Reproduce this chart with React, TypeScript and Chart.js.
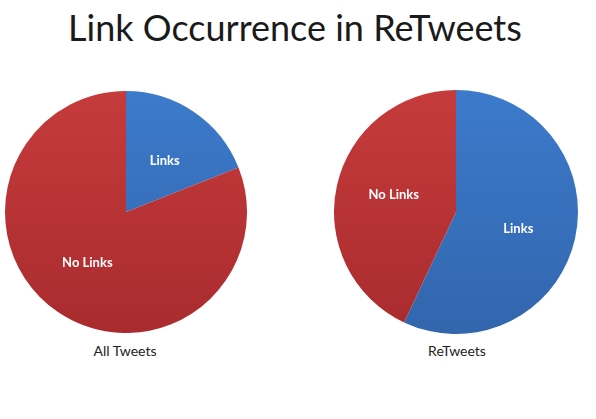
import React, { useEffect, useRef } from "react";
import { Chart, registerables } from "chart.js";

Chart.register(...registerables);

const TITLE = "Link Occurrence in ReTweets";
const CATEGORIES = ["Links", "No Links"];
const ALL_TWEETS = [19, 81];
const RETWEETS = [57, 43];
const CHART_LABELS = ["All Tweets", "ReTweets"];

const FONT = "Lato, 'Open Sans', 'DejaVu Sans', sans-serif";

const COLORS_TOP = ["#3c7acb", "#c63b3c"];
const COLORS_BOT = ["#3266ad", "#a92b2e"];

const labelPlugin = {
  id: "sliceLabels",
  afterDatasetsDraw(chart: any) {
    const ctx = chart.ctx;
    const meta = chart.getDatasetMeta(0);
    ctx.save();
    ctx.fillStyle = "#ffffff";
    ctx.font = `bold 13px ${FONT}`;
    ctx.textAlign = "center";
    ctx.textBaseline = "middle";
    meta.data.forEach((el: any, i: number) => {
      const p = el.getProps(["x", "y", "startAngle", "endAngle", "outerRadius"], true);
      const mid = (p.startAngle + p.endAngle) / 2 + 0.05;
      const r = p.outerRadius * 0.53;
      ctx.fillText(chart.data.labels[i], p.x + Math.cos(mid) * r, p.y + Math.sin(mid) * r);
    });
    ctx.restore();
  },
};

function PieChart({ values, left, top, size }: { values: number[]; left: number; top: number; size: number }) {
  const ref = useRef<HTMLCanvasElement | null>(null);
  useEffect(() => {
    if (!ref.current) return;
    const chart = new Chart(ref.current, {
      type: "pie",
      data: {
        labels: CATEGORIES,
        datasets: [
          {
            data: values,
            borderWidth: 0,
            backgroundColor: (c: any) => {
              const area = c.chart.chartArea;
              if (!area) return COLORS_TOP[c.dataIndex];
              const g = c.chart.ctx.createLinearGradient(0, area.top, 0, area.bottom);
              g.addColorStop(0, COLORS_TOP[c.dataIndex]);
              g.addColorStop(1, COLORS_BOT[c.dataIndex]);
              return g;
            },
          },
        ],
      },
      options: {
        animation: false,
        responsive: false,
        maintainAspectRatio: false,
        layout: { padding: 0 },
        plugins: { legend: { display: false }, tooltip: { enabled: false } },
      },
      plugins: [labelPlugin],
    });
    return () => chart.destroy();
  }, []);
  return (
    <canvas
      ref={ref}
      width={size}
      height={size}
      style={{ position: "absolute", left, top, width: size, height: size }}
    />
  );
}

export default function App() {
  return (
    <div
      style={{
        position: "absolute",
        left: 0,
        top: 0,
        width: 596,
        height: 419,
        background: "#ffffff",
        fontFamily: FONT,
        overflow: "hidden",
      }}
    >
      <div
        style={{
          position: "absolute",
          left: 0,
          top: 5,
          width: 590,
          textAlign: "center",
          fontSize: 36,
          color: "#1a1a1a",
          lineHeight: "44px",
        }}
      >
        {TITLE}
      </div>
      <PieChart values={ALL_TWEETS} left={5} top={91} size={242} />
      <PieChart values={RETWEETS} left={334} top={90} size={244} />
      <div style={{ position: "absolute", left: 60, width: 130, top: 342, textAlign: "center", fontSize: 14, color: "#222" }}>
        {CHART_LABELS[0]}
      </div>
      <div style={{ position: "absolute", left: 392, width: 130, top: 342, textAlign: "center", fontSize: 14, color: "#222" }}>
        {CHART_LABELS[1]}
      </div>
    </div>
  );
}
